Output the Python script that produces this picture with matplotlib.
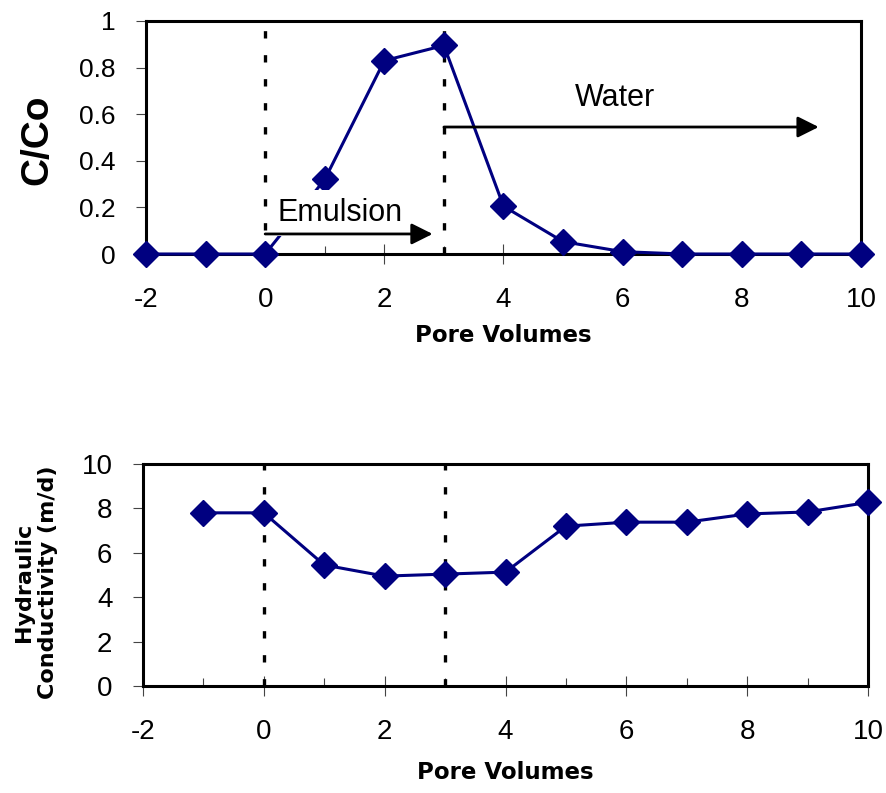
import numpy as np
import matplotlib
matplotlib.use("Agg")
import matplotlib.pyplot as plt
from matplotlib.ticker import MultipleLocator

plt.rcParams['font.family'] = ['Liberation Sans', 'DejaVu Sans']
plt.rcParams['axes.unicode_minus'] = False

# breakthrough curve (top)
pv_top = [-2, -1, 0, 1, 2, 3, 4, 5, 6, 7, 8, 9, 10]
c_co = [0, 0, 0, 0.32, 0.83, 0.895, 0.205, 0.053, 0.01, 0.0, 0.0, 0.0, 0.0]

# hydraulic conductivity (bottom)
pv_bot = [-1, 0, 1, 2, 3, 4, 5, 6, 7, 8, 9, 10]
k_md = [7.8, 7.8, 5.45, 4.95, 5.04, 5.13, 7.2, 7.38, 7.38, 7.75, 7.84, 8.27]

# injection phases
phase_lines = [0, 3]

navy = "#000080"
W, H = 886, 793
wide = ['DejaVu Sans']   # wider bold face, closer to the letter-spaced labels

fig = plt.figure(figsize=(W / 100, H / 100), dpi=100)


def box(l, t, r, b):
    return [l / W, 1 - b / H, (r - l) / W, (b - t) / H]


def style(ax, ylabsize):
    for s in ax.spines.values():
        s.set_linewidth(2.2)
        s.set_color("black")
    ax.set_xlim(-2, 10)
    ax.xaxis.set_major_locator(MultipleLocator(2))
    ax.xaxis.set_minor_locator(MultipleLocator(1))
    ax.tick_params(axis="x", which="major", direction="inout", length=14,
                   width=0.8, color="#444444", pad=17, labelsize=20)
    ax.tick_params(axis="x", which="minor", direction="in", length=6,
                   width=0.8, color="#444444")
    ax.tick_params(axis="y", which="major", direction="out", length=7,
                   width=0.8, color="#444444", pad=15, labelsize=ylabsize)
    ax.tick_params(axis="y", which="minor", left=False)


def phases(ax, top):
    for x in phase_lines:
        ax.plot([x, x], [0, top], color="black", lw=2.4,
                dashes=(2.2, 5.0), zorder=2)


# ---- top panel
ax1 = fig.add_axes(box(146, 21, 861, 254))
style(ax1, 19)
ax1.set_ylim(0, 1)
ax1.set_yticks([0, 0.2, 0.4, 0.6, 0.8, 1.0])
ax1.set_yticklabels(["0", "0.2", "0.4", "0.6", "0.8", "1"])
phases(ax1, 1)
ax1.plot(pv_top, c_co, color=navy, lw=2.2, marker="D", ms=13,
         clip_on=False, zorder=3)
ax1.text(0.2, 0.175, "Emulsion", fontsize=22, va="center", ha="left",
         zorder=4, bbox=dict(facecolor="white", edgecolor="none", pad=6))
ax1.annotate("", xy=(2.81, 0.086), xytext=(0, 0.086),
             arrowprops=dict(arrowstyle="-|>", color="black", lw=2,
                             mutation_scale=32, shrinkA=0, shrinkB=0),
             zorder=5)
ax1.text(5.87, 0.67, "Water", fontsize=22, va="center", ha="center")
ax1.annotate("", xy=(9.29, 0.545), xytext=(3, 0.545),
             arrowprops=dict(arrowstyle="-|>", color="black", lw=2,
                             mutation_scale=32, shrinkA=0, shrinkB=0),
             zorder=5)
ax1.set_xlabel("Pore Volumes", fontsize=16.5, fontweight="bold", family=wide)
ax1.xaxis.set_label_coords(0.5, -0.3)
fig.text(37 / W, 1 - 140 / H, "C/Co", rotation=90, fontsize=28,
         fontweight="bold", ha="center", va="center")

# ---- bottom panel
ax2 = fig.add_axes(box(143, 464, 868, 686))
style(ax2, 20)
ax2.set_ylim(0, 10)
ax2.yaxis.set_major_locator(MultipleLocator(2))
phases(ax2, 10)
ax2.plot(pv_bot, k_md, color=navy, lw=2.2, marker="D", ms=13,
         clip_on=False, zorder=3)
ax2.set_xlabel("Pore Volumes", fontsize=16.5, fontweight="bold", family=wide)
ax2.xaxis.set_label_coords(0.5, -0.34)
fig.text(36 / W, 1 - 582 / H, "Hydraulic\nConductivity (m/d)", rotation=90,
         fontsize=16, fontweight="bold", ha="center", va="center",
         multialignment="center", family=wide, linespacing=1.2)

fig.savefig("out.png", dpi=100)
